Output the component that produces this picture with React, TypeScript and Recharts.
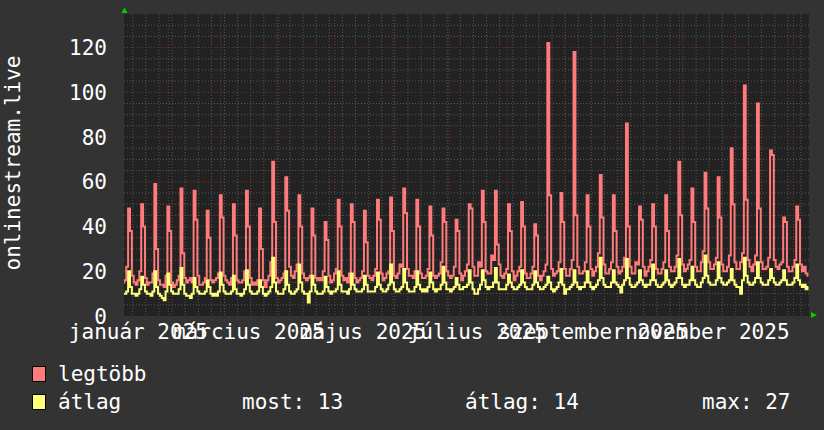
import React from 'react';
import { LineChart, Line, XAxis, YAxis, CartesianGrid } from 'recharts';

// day index: 0 = 1 January 2025
const startDay = 7;

// "legtöbb" (max) daily values, one row per week
const legtobb = [
  15, 16, 22, 48, 38, 18, 15,
  14, 16, 20, 50, 40, 17, 14,
  15, 15, 19, 59, 30, 16, 14,
  14, 13, 18, 49, 38, 15, 13,
  14, 16, 18, 57, 28, 17, 15,
  16, 17, 15, 56, 43, 18, 14,
  14, 15, 17, 47, 35, 16, 15,
  16, 17, 19, 54, 44, 18, 16,
  15, 14, 17, 50, 36, 16, 15,
  15, 16, 20, 56, 40, 17, 14,
  15, 14, 16, 48, 30, 16, 13,
  16, 18, 24, 69, 42, 17, 15,
  16, 17, 19, 62, 47, 22, 18,
  17, 20, 23, 54, 40, 19, 17,
  16, 17, 18, 48, 36, 17, 16,
  17, 16, 20, 42, 34, 18, 15,
  16, 19, 21, 52, 40, 18, 16,
  17, 15, 19, 50, 42, 17, 15,
  16, 17, 20, 47, 33, 18, 17,
  16, 18, 21, 52, 43, 19, 16,
  17, 19, 20, 53, 38, 18, 17,
  19, 23, 22, 57, 46, 21, 18,
  18, 17, 20, 52, 40, 19, 17,
  17, 18, 21, 49, 36, 18, 17,
  18, 19, 24, 48, 42, 20, 18,
  17, 18, 22, 43, 38, 19, 16,
  18, 20, 23, 50, 48, 22, 18,
  18, 24, 22, 56, 42, 20, 19,
  19, 27, 25, 56, 32, 23, 18,
  17, 19, 21, 50, 38, 20, 16,
  18, 20, 22, 51, 40, 19, 17,
  17, 19, 22, 41, 36, 18, 16,
  18, 20, 23, 122, 54, 21, 18,
  19, 20, 24, 55, 42, 21, 18,
  18, 21, 25, 118, 45, 22, 19,
  19, 20, 24, 54, 40, 21, 18,
  20, 22, 28, 63, 44, 23, 19,
  19, 21, 24, 54, 38, 22, 19,
  20, 22, 26, 86, 40, 22, 19,
  19, 24, 23, 49, 43, 22, 18,
  20, 22, 25, 50, 40, 21, 19,
  19, 21, 24, 54, 38, 22, 20,
  20, 22, 27, 69, 45, 23, 20,
  21, 23, 25, 57, 42, 22, 20,
  20, 24, 29, 64, 48, 24, 21,
  21, 23, 26, 62, 44, 23, 20,
  20, 22, 27, 75, 50, 24, 21,
  21, 24, 28, 103, 52, 25, 22,
  20, 23, 27, 95, 48, 24, 21,
  21, 22, 26, 74, 72, 25, 22,
  21, 23, 24, 44, 42, 22, 20,
  20, 22, 25, 49, 43, 23, 20,
  22, 19, 18,
];

// "átlag" (average) daily values, one row per week
const atlag = [
  10, 10, 11, 20, 13, 10, 10,
  9, 10, 12, 17.5, 14, 11, 10,
  10, 9, 11, 20, 13, 10, 9,
  8, 7, 11, 19, 14, 11, 10,
  10, 10, 12, 21.5, 14, 10, 9,
  9, 8, 10, 17, 13, 11, 10,
  10, 10, 11, 16, 13, 10, 9,
  10, 9, 11, 19.5, 14, 11, 10,
  10, 10, 11, 18, 12, 10, 10,
  9, 10, 12, 20.5, 14, 11, 10,
  10, 10, 11, 16, 13, 10, 9,
  10, 11, 13, 26, 15, 11, 10,
  10, 10, 12, 20, 14, 11, 10,
  10, 11, 12, 23, 15, 11, 10,
  10, 6, 11, 18, 14, 11, 10,
  10, 10, 11, 17.5, 13, 11, 10,
  11, 11, 12, 20, 14, 11, 11,
  11, 10, 12, 19, 14, 12, 11,
  11, 11, 12, 18, 14, 11, 11,
  11, 11, 13, 19.5, 14, 12, 11,
  11, 12, 14, 23, 15, 12, 11,
  11, 12, 13, 21, 15, 12, 11,
  11, 11, 13, 20, 14, 12, 11,
  12, 11, 13, 19.5, 15, 12, 11,
  12, 12, 14, 22, 15, 12, 12,
  11, 12, 13, 17, 14, 12, 12,
  13, 13, 14, 20.5, 15, 12, 10,
  10, 12, 14, 20.5, 16, 13, 12,
  13, 13, 15, 21.5, 15, 12, 12,
  12, 12, 14, 18.5, 15, 13, 12,
  12, 13, 14, 20.5, 15, 13, 12,
  12, 12, 14, 20, 15, 13, 12,
  12, 13, 14, 17.5, 15, 12, 11,
  12, 13, 15, 21, 14, 10, 12,
  12, 13, 14, 20.5, 15, 13, 12,
  13, 13, 15, 20, 15, 13, 12,
  13, 14, 16, 26, 17, 14, 13,
  13, 13, 15, 20.5, 15, 14, 13,
  10.5, 14, 16, 25.5, 17, 14, 13,
  13, 14, 15, 20.5, 16, 14, 13,
  14, 14, 16, 23, 16, 14, 13,
  13, 14, 15, 20.5, 16, 14, 13,
  14, 15, 17, 25.5, 17, 14, 13,
  14, 14, 16, 22, 16, 14, 13,
  13, 15, 17, 27, 18, 15, 14,
  14, 14, 16, 24, 17, 15, 14,
  14, 15, 16, 21, 16, 14, 13,
  13, 10, 16, 26, 18, 15, 14,
  14, 15, 17, 24, 17, 15, 14,
  14, 14, 16, 21, 17, 15, 14,
  14, 15, 16, 20.5, 16, 14, 14,
  14, 15, 17, 23, 16, 14, 13,
  14, 12, 13,
];

const monthLabelDays = [15, 74, 135, 196, 258, 319];
const monthLabels = ['január 2025', 'március 2025', 'május 2025', 'július 2025', 'szeptember 2025', 'november 2025'];
const yTicks = [0, 20, 40, 60, 80, 100, 120];
const monthStartDays = [31, 59, 90, 120, 151, 181, 212, 243, 273, 304, 334, 365];
const weekStartDays = [12, 19, 26, 33, 40, 47, 54, 61, 68, 75, 82, 89, 96, 103, 110, 117, 124, 131, 138, 145, 152, 159, 166, 173, 180, 187, 194, 201, 208, 215, 222, 229, 236, 243, 250, 257, 264, 271, 278, 285, 292, 299, 306, 313, 320, 327, 334, 341, 348, 355, 362, 369];
const minorYValues = [5, 10, 15, 25, 30, 35, 45, 50, 55, 65, 70, 75, 85, 90, 95, 105, 110, 115, 125, 130];
const majorYValues = [20, 40, 60, 80, 100, 120];
const seriesNames = ['legtöbb', 'átlag'];
const legendStats = [
  { label: 'most:', value: 13 },
  { label: 'átlag:', value: 14 },
  { label: 'max:', value: 27 },
];

const data = legtobb.map((v, i) => ({ day: startDay + i, legtobb: v, atlag: atlag[i] }));

const FONT = '"DejaVu Sans Mono", monospace';
const RED = '#ff7b7b';
const YELLOW = '#ffff7b';

const YTick = (props: any) => (
  <text x={props.x} y={props.y} dy={7.5} textAnchor="end" fill="#ffffff" fontFamily={FONT} fontSize={21}>
    {props.payload.value}
  </text>
);

const XTick = (props: any) => {
  const idx = monthLabelDays.indexOf(props.payload.value);
  return (
    <text x={props.x} y={props.y} dy={22.5} textAnchor="middle" fill="#ffffff" fontFamily={FONT} fontSize={21}>
      {monthLabels[idx]}
    </text>
  );
};

export default function App() {
  return (
    <div style={{ position: 'absolute', left: 0, top: 0, width: 824, height: 430, background: '#333333' }}>
      <LineChart width={824} height={430} data={data} margin={{ top: 14, right: 15, bottom: 84, left: 0 }}>
        <CartesianGrid
          fill="#222222"
          fillOpacity={1}
          stroke="#585858"
          strokeDasharray="1 2"
          horizontalValues={minorYValues}
          verticalValues={weekStartDays}
        />
        <CartesianGrid
          stroke="#7a3535"
          strokeDasharray="1 2"
          horizontalValues={majorYValues}
          verticalValues={monthStartDays}
        />
        <XAxis
          dataKey="day"
          type="number"
          domain={[7.3, 373.3]}
          allowDataOverflow
          ticks={monthLabelDays}
          interval={0}
          tick={<XTick />}
          axisLine={false}
          tickLine={false}
          tickSize={0}
          tickMargin={0}
          height={30}
        />
        <YAxis
          type="number"
          domain={[0, 135]}
          ticks={yTicks}
          interval={0}
          tick={<YTick />}
          axisLine={false}
          tickLine={false}
          tickSize={0}
          tickMargin={17}
          width={124}
        />
        <Line dataKey="legtobb" name={seriesNames[0]} type="step" stroke={RED} strokeWidth={2} dot={false} isAnimationActive={false} />
        <Line dataKey="atlag" name={seriesNames[1]} type="step" stroke={YELLOW} strokeWidth={2} dot={false} isAnimationActive={false} />
      </LineChart>
      <svg width={824} height={430} style={{ position: 'absolute', left: 0, top: 0, pointerEvents: 'none' }}>
        <text transform="translate(20,163) rotate(-90)" textAnchor="middle" fill="#ffffff" fontFamily={FONT} fontSize={21}>
          onlinestream.live
        </text>
        <polygon points="121.5,13 127.5,13 124.5,7.5" fill="#00d000" />
        <polygon points="811,312 811,318 817,315" fill="#00d000" />
        <rect x={32.5} y={366.5} width={13} height={15} fill={RED} stroke="#000" strokeWidth={1} />
        <text x={58} y={381} fill="#ffffff" fontFamily={FONT} fontSize={21}>{seriesNames[0]}</text>
        <rect x={32.5} y={394.5} width={13} height={15} fill={YELLOW} stroke="#000" strokeWidth={1} />
        <text x={58} y={409} fill="#ffffff" fontFamily={FONT} fontSize={21}>{seriesNames[1]}</text>
        <text x={242} y={409} fill="#ffffff" fontFamily={FONT} fontSize={21}>{`${legendStats[0].label} ${legendStats[0].value}`}</text>
        <text x={465} y={409} fill="#ffffff" fontFamily={FONT} fontSize={21}>{`${legendStats[1].label} ${legendStats[1].value}`}</text>
        <text x={702} y={409} fill="#ffffff" fontFamily={FONT} fontSize={21}>{`${legendStats[2].label} ${legendStats[2].value}`}</text>
      </svg>
    </div>
  );
}
